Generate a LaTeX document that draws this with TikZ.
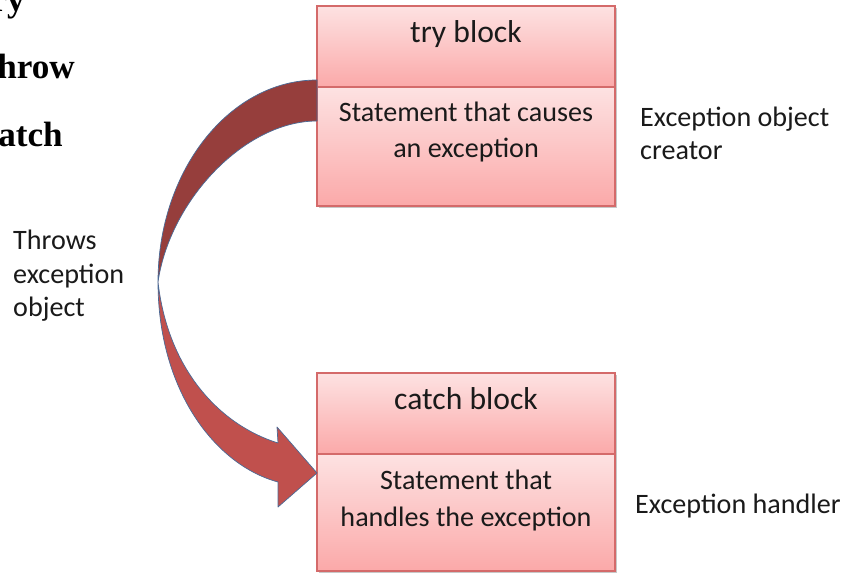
\documentclass[tikz,border=0pt]{standalone}
\usepackage{fontspec}
\setmainfont{Carlito}
\newfontfamily\timesfont{Liberation Serif}
\usetikzlibrary{shadows}
\definecolor{boxborder}{HTML}{D46A6A}
\definecolor{boxtop}{HTML}{FDE2E2}
\definecolor{boxbot}{HTML}{FBA9A9}
\definecolor{arrdark}{HTML}{963E3C}
\definecolor{arrlight}{HTML}{C0504D}
\definecolor{arrline}{HTML}{4A6A96}
\definecolor{txt}{HTML}{1A1A1A}
\begin{document}
\begin{tikzpicture}[x=0.03cm,y=-0.03cm,
  sect/.style={draw=boxborder, line width=0.9pt, top color=boxtop, bottom color=boxbot,
    minimum width=8.94cm, inner sep=0pt, outer sep=0pt,
    drop shadow={shadow xshift=1.8pt, shadow yshift=-1.8pt, opacity=0.3, fill=black!70}},
  titletext/.style={text=txt, inner sep=0pt, font=\fontsize{27}{32}\selectfont},
  bodytext/.style={text=txt, inner sep=0pt, align=center, font=\fontsize{24}{31.5}\selectfont},
  labeltext/.style={text=txt, inner sep=0pt, align=left, font=\fontsize{24}{29}\selectfont},
  kwtext/.style={text=black, inner sep=0pt, font=\timesfont\bfseries\fontsize{30}{36}\selectfont},
  arrowpart/.style={draw=arrline, line width=0.6pt, line join=round}]
\useasboundingbox (0,0) rectangle (841,573);
\clip (0,0) rectangle (841,573);
\fill[white] (0,0) rectangle (841,573);

% cut-off keywords
\node[kwtext, anchor=base east] (kwtry) at (25,12) {try};
\node[kwtext, anchor=base east] (kwthrow) at (75,79) {throw};
\node[kwtext, anchor=base east] (kwcatch) at (63,147) {catch};

% boxes
\node[sect, minimum height=2.43cm] (tryhead) at (466,46.5) {};
\node[sect, minimum height=3.57cm] (trybody) at (466,146.5) {};
\node[sect, minimum height=2.43cm] (catchhead) at (466,413.5) {};
\node[sect, minimum height=3.51cm] (catchbody) at (466,512.5) {};

\node[titletext, anchor=base] (trytitle) at (466,43) {try block};
\node[bodytext, anchor=base] (trytext) at (466,158) {Statement that causes\\an exception};
\node[titletext, anchor=base] (catchtitle) at (466,409) {catch block};
\node[bodytext, anchor=base] (catchtext) at (466,526) {Statement that\\handles the exception};

% curved arrow
\coordinate (tailtop) at (317,80);
\coordinate (tailbot) at (317,121);
\coordinate (pinch) at (158,282);
\coordinate (shaftlow) at (278,482);
\coordinate (shafthigh) at (278,443);
\coordinate (headlow) at (278,507);
\coordinate (headhigh) at (277,427);
\coordinate (tip) at (317,473);
\path[arrowpart, fill=arrdark] (tailtop) .. controls (230,80) and (158,170) .. (pinch)
  .. controls (170,200) and (245,121) .. (tailbot) -- cycle;
\path[arrowpart, fill=arrlight] (pinch) .. controls (158,390) and (215,465) .. (shaftlow)
  -- (headlow) -- (tip) -- (headhigh) -- (shafthigh)
  .. controls (220,425) and (168,370) .. (pinch) -- cycle;

% labels
\node[labeltext, anchor=base west] (throwslbl) at (13,317) {Throws\\exception\\object};
\node[labeltext, anchor=base west] (creatorlbl) at (640,160) {Exception object\\creator};
\node[labeltext, anchor=base west] (handlerlbl) at (635,513) {Exception handler};
\end{tikzpicture}
\end{document}
